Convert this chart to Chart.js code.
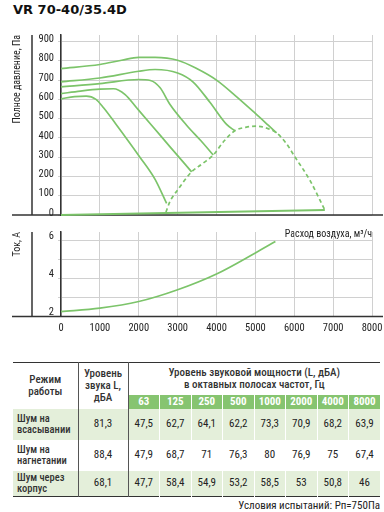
<!DOCTYPE html>
<html>
<head>
<meta charset="utf-8">
<script src="https://cdn.jsdelivr.net/npm/chart.js@4.4.0/dist/chart.umd.min.js"></script>
<style>
  body { margin: 0; width: 384px; height: 512px; background: #fff; position: relative; overflow: hidden;
         font-family: 'Roboto Condensed', Roboto, sans-serif; color: #222; }
  #title { position: absolute; left: 13px; top: 2px; font: bold 13px 'DejaVu Sans', sans-serif; color: #111; }
  #pressure { position: absolute; left: 0; top: 0; }
  #current { position: absolute; left: 0; top: 226px; }
  #noise { position: absolute; left: 13px; top: 362px; width: 367px; border-collapse: collapse; table-layout: fixed;
           border-top: 1px solid #333; border-bottom: 1px solid #333; font-size: 11px; }
  #noise th, #noise td { padding: 0; text-align: center; vertical-align: middle; line-height: 1.05; }
  #noise .sep { border-right: 1px solid #555; }
  #noise .head { font-weight: 500; color: #333; }
  #noise tr.top { height: 32px; }
  #noise tr.bands { height: 14px; }
  #noise tr.bands th { background: #86c470; color: #fff; font-weight: bold; border-left: 1px solid #fff; }
  #noise tbody tr { height: 31px; }
  #noise tbody tr:last-child { height: 26px; }
  #noise tbody tr.tint td { background: #e4efda; }
  #noise tbody td.band { border-left: 1px solid #fff; }
  #noise td.mode { text-align: left; padding-left: 4px; font-weight: 500; font-size: 10.5px; color: #333; }
  #note { position: absolute; right: 4px; top: 499px; font-size: 11px; color: #222; }
</style>
</head>
<body>
<div id="title">VR 70-40/35.4D</div>
<canvas id="pressure" width="384" height="240"></canvas>
<canvas id="current" width="384" height="112"></canvas>
<table id="noise">
  <colgroup id="cols"></colgroup>
  <thead>
    <tr class="top">
      <th rowspan="2" class="sep head">Режим<br>работы</th>
      <th rowspan="2" class="sep head">Уровень<br>звука L,<br>дБА</th>
      <th colspan="8" class="head">Уровень звуковой мощности (L, дБА)<br>в октавных полосах частот, Гц</th>
    </tr>
    <tr class="bands" id="bandRow"></tr>
  </thead>
  <tbody id="noiseBody"></tbody>
</table>
<div id="note">Условия испытаний: Рп=750Па</div>
<script>
const FONT = "'Roboto Condensed', Roboto, sans-serif";
Chart.defaults.font.family = FONT;
Chart.defaults.font.size = 11;
Chart.defaults.color = '#222';

const GREEN = '#7cc46a';
const GRID = '#d0d0d0';

// axis ticks
const flowTicks = [0, 1000, 2000, 3000, 4000, 5000, 6000, 7000, 8000];
const pressureTicks = [0, 100, 200, 300, 400, 500, 600, 700, 800, 900];
const currentTicks = [2, 3, 4, 5, 6];
const currentLabels = ['2', '', '4', '', '6'];

// pressure curves, top to bottom (flow m3/h, pressure Pa)
const curve1Flow = [0, 1000, 1560, 2000, 2420, 3000, 3490, 4000, 4520, 5000, 5330, 5545];
const curve1Pressure = [760, 781, 803, 818, 818, 803, 760, 700, 613, 527, 466, 426];
const curve2Flow = [0, 1000, 2000, 2420, 3000, 3400, 3830, 4260, 4473];
const curve2Pressure = [691, 711, 746, 755, 737, 690, 585, 470, 437];
const curve3Flow = [0, 1000, 2000, 2300, 2550, 2800, 3230, 3600, 3916];
const curve3Pressure = [665, 682, 703, 698, 660, 575, 466, 385, 311];
const curve4Flow = [0, 500, 1000, 1350, 1650, 1950, 2330, 2800, 3360];
const curve4Pressure = [630, 643, 653, 655, 625, 555, 466, 355, 224];
const curve5Flow = [0, 350, 650, 900, 1100, 1400, 2030, 2420, 2717];
const curve5Pressure = [603, 614, 617, 600, 555, 475, 300, 185, 60];
// dashed working limit
const limitFlow = [2700, 2800, 3000, 3360, 3650, 3916, 4200, 4473, 4750, 5030, 5300, 5545, 5800, 6015, 6400, 6787];
const limitPressure = [15, 69, 130, 224, 268, 311, 385, 437, 455, 461, 450, 426, 370, 302, 181, 26];
const baseFlow = [0, 6787];
const basePressure = [0, 26];

// current draw
const currentFlow = [0, 1000, 2000, 3000, 4000, 5000, 5515];
const currentAmps = [2.26, 2.44, 2.79, 3.41, 4.24, 5.35, 5.95];

// noise table
const bands = ['63', '125', '250', '500', '1000', '2000', '4000', '8000'];
const modes = [['Шум на', 'всасывании'], ['Шум на', 'нагнетании'], ['Шум через', 'корпус']];
const totalLevel = ['81,3', '88,4', '68,1'];
const levelsInlet = ['47,5', '62,7', '64,1', '62,2', '73,3', '70,9', '68,2', '63,9'];
const levelsOutlet = ['47,9', '68,7', '71', '76,3', '80', '76,9', '75', '67,4'];
const levelsCase = ['47,7', '58,4', '54,9', '53,2', '58,5', '53', '50,8', '46'];

function pts(xs, ys) {
  return xs.map((x, i) => ({ x: x, y: ys[i] }));
}

function line(xs, ys, dash, width) {
  return {
    data: pts(xs, ys),
    borderColor: GREEN,
    borderWidth: width || 1.7,
    borderDash: dash || [],
    pointRadius: 0,
    cubicInterpolationMode: 'monotone',
    clip: 4
  };
}

// dark axis lines that run past the plot area
const axisLines = {
  id: 'axisLines',
  beforeDatasetsDraw(chart) {
    const { ctx, chartArea: a } = chart;
    ctx.save();
    ctx.strokeStyle = '#333';
    ctx.lineWidth = 1.5;
    ctx.beginPath();
    ctx.moveTo(32, a.top);
    ctx.lineTo(32, a.bottom);
    ctx.moveTo(12, a.bottom);
    ctx.lineTo(383, a.bottom);
    ctx.stroke();
    ctx.restore();
  }
};

function xAxis(showLabels, height) {
  return {
    type: 'linear', min: 0, max: 8000,
    ticks: { display: showLabels, padding: 6, maxRotation: 0, font: { size: 10.5 }, callback: v => String(v) },
    grid: { color: GRID, drawTicks: false },
    border: { display: false },
    afterBuildTicks(s) { s.ticks = flowTicks.map(v => ({ value: v })); },
    afterFit(s) { s.height = height; s.paddingLeft = 0; s.paddingRight = 0; }
  };
}

function yAxis(min, max, values, labels, title, offset) {
  return {
    min: min, max: max,
    ticks: { padding: 4, labelOffset: offset, font: { size: 10.5 }, callback: (v, i) => labels[i] },
    grid: { color: GRID, tickLength: 3 },
    border: { color: '#333', width: 1.5 },
    title: { display: true, text: title, align: 'end', padding: { top: 11 }, font: { size: 10 } },
    afterBuildTicks(s) { s.ticks = values.map(v => ({ value: v })); },
    afterFit(s) { s.width = 61; s.paddingTop = 0; s.paddingBottom = 0; }
  };
}

const px = xAxis(false, 25);
px.title = { display: true, text: 'Расход воздуха, м³/ч', align: 'end', padding: { top: 4, bottom: 0 }, font: { size: 10 } };

new Chart(document.getElementById('pressure'), {
  type: 'line',
  data: {
    datasets: [
      line(curve1Flow, curve1Pressure),
      line(curve2Flow, curve2Pressure),
      line(curve3Flow, curve3Pressure),
      line(curve4Flow, curve4Pressure),
      line(curve5Flow, curve5Pressure),
      line(limitFlow, limitPressure, [4, 3]),
      line(baseFlow, basePressure, [], 2.2)
    ]
  },
  options: {
    responsive: false,
    animation: false,
    layout: { padding: { top: 35, right: 12, left: 0, bottom: 0 } },
    plugins: { legend: { display: false }, tooltip: { enabled: false } },
    scales: {
      x: px,
      y: yAxis(0, 934, pressureTicks, pressureTicks.map(String), 'Полное давление, Па', -2)
    }
  },
  plugins: [axisLines]
});

new Chart(document.getElementById('current'), {
  type: 'line',
  data: {
    datasets: [line(currentFlow, currentAmps)]
  },
  options: {
    responsive: false,
    animation: false,
    layout: { padding: { top: 6, right: 12, left: 0, bottom: 0 } },
    plugins: { legend: { display: false }, tooltip: { enabled: false } },
    scales: {
      x: xAxis(true, 21.5),
      y: yAxis(2, 6.45, currentTicks, currentLabels, 'Ток, А', -4)
    }
  },
  plugins: [axisLines]
});

// noise table
const cols = document.getElementById('cols');
[65, 50].concat(bands.map(() => 31.5)).forEach(w => {
  const c = document.createElement('col');
  c.style.width = w + 'px';
  cols.appendChild(c);
});
const bandRow = document.getElementById('bandRow');
bands.forEach(b => {
  const th = document.createElement('th');
  th.textContent = b;
  bandRow.appendChild(th);
});
const body = document.getElementById('noiseBody');
[levelsInlet, levelsOutlet, levelsCase].forEach((levels, r) => {
  const tr = document.createElement('tr');
  if (r !== 1) tr.className = 'tint';
  let html = '<td class="mode sep">' + modes[r][0] + '<br>' + modes[r][1] + '</td>';
  html += '<td class="sep">' + totalLevel[r] + '</td>';
  levels.forEach((v, i) => { html += '<td class="' + (i ? 'band' : '') + '">' + v + '</td>'; });
  tr.innerHTML = html;
  body.appendChild(tr);
});
</script>
</body>
</html>
